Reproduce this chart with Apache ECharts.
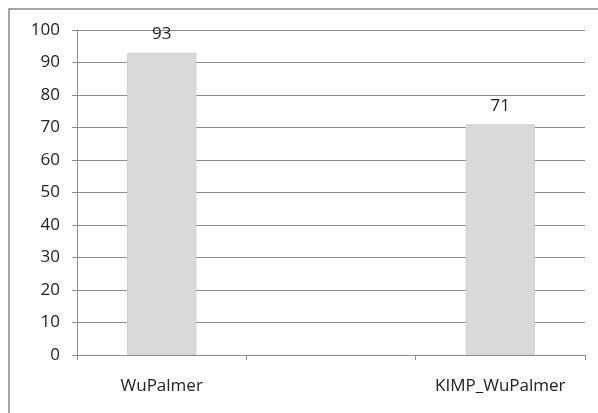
<!DOCTYPE html>
<html>
<head>
<meta charset="utf-8">
<script src="https://cdn.jsdelivr.net/npm/echarts@6/dist/echarts.min.js"></script>
<style>
  html, body { margin: 0; padding: 0; background: #fff; }
  #chart { width: 598px; height: 413px; }
</style>
</head>
<body>
<div id="chart"></div>
<script>
const categories = ['WuPalmer', '', 'KIMP_WuPalmer']
const values = [93, null, 71]
const yTicks = { min: 0, max: 100, interval: 10 }

const chart = echarts.init(document.getElementById('chart'))

const font = 'Open Sans, Liberation Sans, sans-serif'

const options = {
    animation: false,
    backgroundColor: '#fff',
    graphic: [
        {
            type: 'rect',
            shape: { x: 9, y: 9, width: 620, height: 440 },
            style: { fill: 'none', stroke: '#888', lineWidth: 1.5 },
            silent: true,
        },
    ],
    grid: {
        left: 77,
        right: 13,
        top: 30,
        bottom: 58,
    },
    xAxis: {
        type: 'category',
        data: categories,
        boundaryGap: true,
        axisLine: { show: true, lineStyle: { color: '#8c8c8c', width: 1 } },
        axisTick: { show: true, interval: 0, length: 5, lineStyle: { color: '#8c8c8c' } },
        axisLabel: {
            interval: 0,
            margin: 23,
            color: '#222',
            fontSize: 17,
            fontFamily: font,
        },
    },
    yAxis: {
        type: 'value',
        min: yTicks.min,
        max: yTicks.max,
        interval: yTicks.interval,
        axisLine: { show: true, lineStyle: { color: '#8c8c8c', width: 1 } },
        axisTick: { show: true, length: 5, lineStyle: { color: '#8c8c8c' } },
        axisLabel: {
            margin: 17,
            color: '#222',
            fontSize: 17,
            fontFamily: font,
        },
        splitLine: { show: true, lineStyle: { color: '#8c8c8c', width: 1 } },
    },
    series: [
        {
            type: 'bar',
            data: values,
            barWidth: '41%',
            itemStyle: {
                color: '#d9d9d9',
                borderColor: '#d0d0d0',
                borderWidth: 1,
            },
            label: {
                show: true,
                position: 'top',
                distance: 10,
                color: '#222',
                fontSize: 17,
                fontFamily: font,
            },
        },
    ],
}

chart.setOption(options)
</script>
</body>
</html>
